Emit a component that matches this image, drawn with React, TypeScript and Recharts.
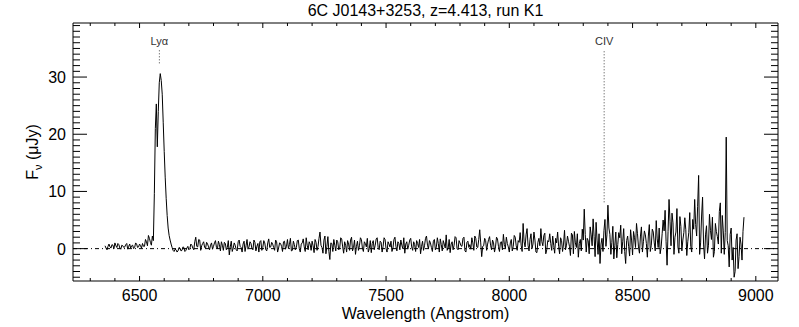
import { LineChart, Line, XAxis, YAxis, ReferenceLine } from "recharts";

// ---------------------------------------------------------------------------
// 6C J0143+3253 spectrum (z = 4.413), flux density vs observed wavelength
// ---------------------------------------------------------------------------

const TITLE = "6C J0143+3253, z=4.413, run K1";
const REDSHIFT = 4.413;
const STEP = 8;
const HALF = 4;

// blue side of Lya, 6360..6544 A every 8 A, plus the in-between samples
const BLUE_START = 6360;
const BLUE_FLUX = [
  0.5, -0.2, 0.8, 0.1, 0.6, 1.0, 0.2, 0.7, -0.1, 0.5,
  0.3, 0.9, 0.4, 0.1, 0.6, 0.2, 0.8, 0.3, 0.5, 0.9,
  0.4, 1.2, 2.3, 1.1,
];
const BLUE_MID = [
  0.1, 0.4, 0.3, 0.7, 0.0, 0.5, 0.9, 0.1, 0.6, 0.2,
  0.7, -0.1, 0.8, 0.5, 0.0, 1.0, 0.2, 0.8, 0.1, 0.4,
  1.6, 0.5, 1.8,
];

// Lya line
const LYA_WAVE = [
  6548, 6552, 6556, 6560, 6564, 6568, 6572, 6576, 6580, 6584, 6588, 6592,
  6596, 6600, 6604, 6608, 6612, 6616, 6620, 6624, 6628, 6632, 6636,
];
const LYA_FLUX = [
  0.6, 2.2, 1.4, 9.6, 21.0, 25.3, 17.8, 24.0, 29.0, 30.6, 29.4, 27.0,
  22.0, 17.0, 12.5, 8.8, 5.8, 3.6, 2.3, 1.5, 0.8, 0.2, -0.3,
];

// red side, 6640..8952 A every 8 A
const RED_START = 6640;
const RED_FLUX = [
  -0.5, -0.2, -0.4, 0.1, -0.3, 0.2, -0.3, 0.4, 0.0, 0.6,
  -0.2, 2.0, 0.3, 1.5, 0.5, 1.2, 0.1, 0.8, -0.2, 1.0,
  0.4, 1.4, 0.0, 0.7, 1.2, -0.3, 0.9, 0.2, -1.1, 1.3,
  0.1, 0.6, -0.4, 1.5, 0.2, 0.8, -0.5, 1.6, 0.3, 0.9,
  -0.2, 1.1, 0.4, -0.6, 1.4, 0.2, 1.0, -0.4, 1.7, 0.3,
  0.8, -0.3, 1.2, 0.1, 0.9, -0.5, 1.3, 0.4, 0.0, 1.8,
  -0.3, 0.7, 0.2, 1.5, -0.6, 1.0, 0.3, 1.9, -0.2, 0.8,
  1.3, -0.7, 1.1, 0.4, 2.9, 0.2, 1.5, -0.9, 2.1, -1.9,
  0.9, 1.6, -0.4, 1.2, 0.1, 1.7, -0.8, 0.6, 1.4, -0.3,
  2.0, 0.2, -1.0, 1.3, 0.5, 1.6, -0.5, 0.9, 1.8, 0.0,
  -0.7, 1.4, 0.6, 1.9, -0.2, 1.1, 0.4, 1.6, -0.6, 0.8,
  1.3, 0.1, 2.0, -0.4, 0.9, 1.5, 0.0, -0.8, 1.2, 0.6,
  1.8, -0.3, 0.7, 1.4, 0.2, -0.9, 1.3, 0.5, 2.2, 0.0,
  1.0, -0.5, 1.6, 0.3, 0.9, 1.7, -0.4, 0.8, 2.4, 0.1,
  -0.7, 1.2, 0.6, 1.9, -0.2, 1.0, 0.4, 2.0, -0.6, 1.3,
  0.7, 1.9, -0.3, 1.8, 0.2, 3.3, -1.4, 0.5, 1.4, 0.8,
  2.1, -0.2, 1.0, 0.3, 1.7, -0.5, 1.2, 2.5, 0.1, 0.9,
  -0.6, 1.6, 0.4, 2.0, -0.3, 1.1, 0.6, 4.4, 0.3, 3.5,
  -0.4, 2.6, 0.8, 1.5, -0.7, 1.8, 3.5, 0.5, 2.7, -0.2,
  1.2, 0.9, 2.2, -0.8, 1.0, 0.4, 1.9, -0.5, 3.2, 0.6,
  1.3, -1.2, 2.4, 3.0, 0.2, -1.5, 1.6, 3.4, 6.9, -0.6,
  1.4, 3.8, 0.5, 2.1, 4.6, -1.0, -2.6, 1.8, 3.2, 0.4,
  7.6, 2.5, 1.1, -1.8, 2.9, 0.7, 1.9, -0.9, 3.5, -2.6,
  2.2, -1.3, 1.5, 3.0, 0.2, 2.6, -0.8, 3.8, 1.2, 2.4,
  -1.5, 4.2, 0.6, 2.9, -0.4, 1.7, 3.6, 0.3, 5.0, 6.7,
  -2.9, 8.6, 0.5, 4.5, 2.0, 7.0, -0.8, 3.9, 1.5, 5.4,
  -1.2, 2.8, 0.4, 5.1, 8.6, 2.2, 12.8, 1.0, 9.0, -1.8,
  4.0, 0.6, 3.2, 5.5, -0.5, 3.0, 0.8, 8.0, 5.8, -1.0,
  19.5, 0.5, 2.5, -2.0, -5.0, 1.5, -3.5, 2.0, -2.0, 5.5,
];
// red side, in-between samples 6644..8948 A
const RED_MID = [
  -0.1, -0.6, 0.2, -0.4, 0.3, -0.5, 0.1, -0.2, 0.8, 0.1,
  1.2, 0.4, 1.6, -0.3, 0.9, 0.2, 1.1, 0.3, 0.6, -0.1,
  1.0, 0.2, 1.3, -0.4, 0.6, 1.1, -0.2, 1.4, 0.3, -0.5,
  1.0, -0.2, 1.2, 0.4, -0.6, 1.3, 0.5, -0.1, 1.2, 0.0,
  1.5, -0.4, 0.9, 1.2, -0.3, 1.4, -0.2, 1.0, 0.2, 1.1,
  0.2, 1.5, -0.6, 1.0, 0.4, 1.2, -0.1, 1.6, 0.7, -0.4,
  1.3, -0.2, 1.4, 0.0, 0.8, 1.7, -0.5, 0.6, 1.2, -0.3,
  0.5, 1.6, -0.3, 1.8, 0.6, -0.8, 2.2, 0.4, -0.5, 1.0,
  -0.5, 0.6, 1.5, -0.2, 1.9, 0.3, 1.2, -0.6, 0.8, 1.5,
  -0.4, 1.5, 0.4, -0.3, 1.9, 0.1, 1.2, 0.3, -0.6, 1.4,
  0.9, -0.2, 1.7, 0.2, 1.3, -0.6, 1.9, 0.0, 1.2, 0.3,
  -0.5, 1.6, 0.4, 1.2, -0.2, 0.6, 1.9, 0.8, -0.1, 1.5,
  0.3, 1.2, -0.5, 0.9, 1.6, 0.4, -0.3, 1.8, 0.6, 1.4,
  0.2, 1.3, -0.2, 1.9, -0.6, 0.7, 1.4, 0.1, -0.3, 1.6,
  0.8, -0.2, 2.1, 0.0, 1.4, 0.5, 1.8, -0.4, 1.1, 0.2,
  -0.1, 1.0, 2.2, 0.3, 1.6, 1.0, 0.4, 1.8, -0.3, 1.6,
  0.6, 1.5, -0.6, 2.0, 0.4, 1.1, -0.2, 0.7, 2.0, 0.3,
  1.0, -0.4, 2.3, 0.5, 1.4, 2.8, -0.5, 1.2, 2.4, 0.6,
  1.6, 0.0, 2.9, -0.6, 1.1, 0.5, 1.2, 2.3, -0.9, 1.4,
  2.6, -0.3, 0.6, 1.8, 2.9, -0.9, 1.4, 0.8, -0.2, 2.2,
  0.4, 2.7, -0.9, 1.0, 2.6, 0.9, -0.4, 1.5, 2.5, 1.8,
  -0.9, 2.4, 5.2, -1.4, 1.5, 2.6, 0.8, -0.5, 5.1, 2.4,
  3.6, -1.0, 3.9, 0.6, -1.6, 2.8, 4.1, 1.2, -0.5, 1.4,
  0.4, 3.3, -1.1, 1.9, 4.4, 0.3, 2.2, -0.6, 3.1, 0.9,
  2.2, -0.5, 3.4, 1.0, 4.9, 0.2, -0.9, 2.6, 3.1, 1.2,
  3.0, 4.8, 6.2, -1.0, 2.9, 0.3, 5.6, -0.4, 2.8, 3.3,
  1.2, 6.3, -0.6, 3.4, 4.2, 7.4, -1.0, 5.7, 0.8, 2.4,
  -0.8, 6.0, 1.6, -1.5, 4.4, 2.1, 6.5, -0.8, 3.1, 2.8,
  1.4, -3.2, 3.6, 0.2, -4.0, 2.6, -1.4, 0.8, 3.0,
];

// emission line markers (rest wavelength, bottom of the dotted marker in uJy)
const LINE_NAMES = ["Lyα", "CIV"];
const LINE_REST = [1215.67, 1549.0];
const LINE_MARK_BOTTOM = [32.4, 8.1];

const X_DOMAIN: [number, number] = [6230, 9090];
const Y_DOMAIN: [number, number] = [-5.66, 39.45];
const X_TICKS = Array.from({ length: 28 }, (_, i) => 6300 + i * 100);
const Y_TICKS = Array.from({ length: 45 }, (_, i) => -5 + i);

const FONT = "'Liberation Sans', Arial, Helvetica, sans-serif";
const MARK_TOP = 34.7;

const spectrum = [
  ...BLUE_FLUX.map((f, i) => ({ wave: BLUE_START + i * STEP, flux: f })),
  ...BLUE_MID.map((f, i) => ({ wave: BLUE_START + HALF + i * STEP, flux: f })),
  ...LYA_WAVE.map((w, i) => ({ wave: w, flux: LYA_FLUX[i] })),
  ...RED_FLUX.map((f, i) => ({ wave: RED_START + i * STEP, flux: f })),
  ...RED_MID.map((f, i) => ({ wave: RED_START + HALF + i * STEP, flux: f })),
].sort((a, b) => a.wave - b.wave);

function XTick(props: any) {
  const { x, y, payload, dir, showLabel } = props;
  const major = payload.value % 500 === 0;
  const len = major ? 5 : 3;
  return (
    <g>
      <line x1={x} x2={x} y1={y} y2={y + dir * len} stroke="#000" />
      {showLabel && major && (
        <text x={x} y={y + 20} textAnchor="middle" fontSize={16} fontFamily={FONT} fill="#000">
          {payload.value}
        </text>
      )}
    </g>
  );
}

function YTick(props: any) {
  const { x, y, payload, dir, showLabel } = props;
  const major = payload.value % 10 === 0;
  const len = major ? 14 : 7;
  return (
    <g>
      <line x1={x} x2={x + dir * len} y1={y} y2={y} stroke="#000" />
      {showLabel && major && (
        <text x={x - 7} y={y + 6} textAnchor="end" fontSize={16} fontFamily={FONT} fill="#000">
          {payload.value}
        </text>
      )}
    </g>
  );
}

function YLabel(props: any) {
  const vb = props.viewBox || { x: 0, y: 23, width: 73, height: 258 };
  const cx = 32;
  const cy = vb.y + vb.height / 2;
  return (
    <text
      x={cx}
      y={cy}
      transform={`rotate(-90 ${cx} ${cy})`}
      textAnchor="middle"
      fontSize={16}
      fontFamily={FONT}
      fill="#000"
      dy={6}
    >
      F<tspan dy={4} fontSize={11}>ν</tspan>
      <tspan dy={-4}> (μJy)</tspan>
    </text>
  );
}

export default function App() {
  return (
    <div style={{ width: 799, height: 327, background: "#fff" }}>
      <style>{`body{margin:0;background:#fff}`}</style>
      <LineChart
        width={799}
        height={327}
        data={spectrum}
        margin={{ top: 22, right: 20, bottom: 0, left: 0 }}
      >
        <XAxis
          xAxisId="bottom"
          dataKey="wave"
          type="number"
          orientation="bottom"
          domain={X_DOMAIN}
          ticks={X_TICKS}
          interval={0}
          allowDataOverflow
          height={46}
          tickSize={0}
          tickMargin={0}
          tickLine={false}
          axisLine={{ stroke: "#000" }}
          tick={(p: any) => <XTick {...p} dir={-1} showLabel />}
          label={{
            value: "Wavelength (Angstrom)",
            position: "insideBottom",
            offset: 8,
            fontSize: 16,
            fontFamily: FONT,
            fill: "#000",
          }}
        />
        <XAxis
          xAxisId="top"
          dataKey="wave"
          type="number"
          orientation="top"
          domain={X_DOMAIN}
          ticks={X_TICKS}
          interval={0}
          allowDataOverflow
          height={1}
          tickSize={0}
          tickMargin={0}
          tickLine={false}
          axisLine={{ stroke: "#000" }}
          tick={(p: any) => <XTick {...p} dir={1} />}
          label={{
            value: TITLE,
            position: "top",
            offset: 6,
            fontSize: 16,
            fontFamily: FONT,
            fill: "#000",
          }}
        />
        <YAxis
          yAxisId="left"
          type="number"
          orientation="left"
          domain={Y_DOMAIN}
          ticks={Y_TICKS}
          interval={0}
          allowDataOverflow
          width={73}
          tickSize={0}
          tickMargin={0}
          tickLine={false}
          axisLine={{ stroke: "#000" }}
          tick={(p: any) => <YTick {...p} dir={1} showLabel />}
          label={(p: any) => <YLabel {...p} />}
        />
        <YAxis
          yAxisId="right"
          type="number"
          orientation="right"
          domain={Y_DOMAIN}
          ticks={Y_TICKS}
          interval={0}
          allowDataOverflow
          width={1}
          tickSize={0}
          tickMargin={0}
          tickLine={false}
          axisLine={{ stroke: "#000" }}
          tick={(p: any) => <YTick {...p} dir={-1} />}
        />
        <ReferenceLine
          xAxisId="bottom"
          yAxisId="left"
          y={0}
          stroke="#000"
          strokeDasharray="4 3 1 3"
        />
        {LINE_NAMES.map((name, i) => {
          const obs = LINE_REST[i] * (1 + REDSHIFT);
          return (
            <ReferenceLine
              key={name}
              xAxisId="bottom"
              yAxisId="left"
              segment={[
                { x: obs, y: LINE_MARK_BOTTOM[i] },
                { x: obs, y: MARK_TOP },
              ]}
              stroke="#444"
              strokeDasharray="1 2"
              label={{
                value: name,
                position: "top",
                offset: 5,
                fontSize: 11,
                fontFamily: FONT,
                fill: "#333",
              }}
            />
          );
        })}
        <Line
          xAxisId="bottom"
          yAxisId="left"
          dataKey="flux"
          type="linear"
          stroke="#000"
          strokeWidth={1}
          dot={false}
          isAnimationActive={false}
        />
      </LineChart>
    </div>
  );
}
